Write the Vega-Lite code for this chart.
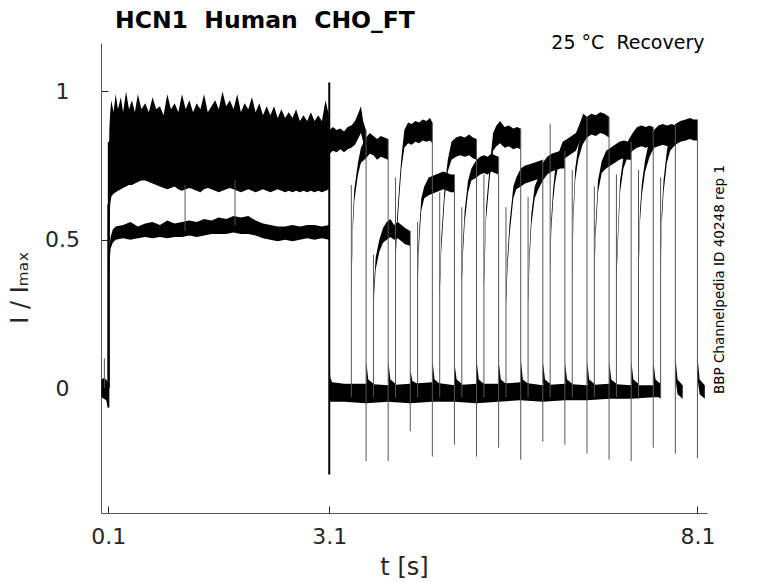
{
  "$schema": "https://vega.github.io/schema/vega-lite/v6.json",
  "width": 606,
  "height": 470,
  "autosize": {"type": "none"},
  "padding": {"left": 101, "top": 43, "right": 71, "bottom": 70},
  "background": "white",
  "title": {
    "text": "HCN1\u00a0\u00a0Human\u00a0\u00a0CHO_FT",
    "anchor": "start",
    "frame": "group",
    "dx": 14,
    "dy": 34,
    "fontSize": 23.5,
    "font": "DejaVu Sans",
    "fontWeight": "bold",
    "color": "black",
    "baseline": "alphabetic",
    "offset": 16
  },
  "config": {
    "view": {"stroke": null},
    "axis": {"grid": false, "labelFont": "DejaVu Sans", "titleFont": "DejaVu Sans"}
  },
  "datasets": {
    "bands": [
      {"seg": "pre", "t": 0.005, "lo": -0.03, "hi": 0.03},
      {"seg": "pre", "t": 0.04, "lo": -0.035, "hi": 0.035},
      {"seg": "pre", "t": 0.07, "lo": -0.04, "hi": 0.03},
      {"seg": "pre", "t": 0.09, "lo": -0.06, "hi": 0.02},
      {"seg": "pre", "t": 0.1, "lo": -0.065, "hi": 0.02},

      {"seg": "act", "t": 0.108, "lo": 0.40, "hi": 0.80},
      {"seg": "act", "t": 0.115, "lo": 0.55, "hi": 0.88},
      {"seg": "act", "t": 0.125, "lo": 0.62, "hi": 0.93},
      {"seg": "act", "t": 0.14, "lo": 0.645, "hi": 0.97},
      {"seg": "act", "t": 0.17, "lo": 0.655, "hi": 0.93},
      {"seg": "act", "t": 0.2, "lo": 0.66, "hi": 0.99},
      {"seg": "act", "t": 0.23, "lo": 0.665, "hi": 0.94},
      {"seg": "act", "t": 0.27, "lo": 0.67, "hi": 0.98},
      {"seg": "act", "t": 0.3, "lo": 0.675, "hi": 0.93},
      {"seg": "act", "t": 0.34, "lo": 0.68, "hi": 1.0},
      {"seg": "act", "t": 0.38, "lo": 0.685, "hi": 0.94},
      {"seg": "act", "t": 0.42, "lo": 0.685, "hi": 0.97},
      {"seg": "act", "t": 0.46, "lo": 0.69, "hi": 0.93},
      {"seg": "act", "t": 0.5, "lo": 0.695, "hi": 0.99},
      {"seg": "act", "t": 0.55, "lo": 0.70, "hi": 0.94},
      {"seg": "act", "t": 0.6, "lo": 0.70, "hi": 0.96},
      {"seg": "act", "t": 0.65, "lo": 0.695, "hi": 0.93},
      {"seg": "act", "t": 0.7, "lo": 0.69, "hi": 0.98},
      {"seg": "act", "t": 0.75, "lo": 0.685, "hi": 0.94},
      {"seg": "act", "t": 0.8, "lo": 0.68, "hi": 0.95},
      {"seg": "act", "t": 0.85, "lo": 0.675, "hi": 0.92},
      {"seg": "act", "t": 0.9, "lo": 0.67, "hi": 0.99},
      {"seg": "act", "t": 0.95, "lo": 0.675, "hi": 0.94},
      {"seg": "act", "t": 1.0, "lo": 0.68, "hi": 0.96},
      {"seg": "act", "t": 1.05, "lo": 0.67, "hi": 0.93},
      {"seg": "act", "t": 1.1, "lo": 0.665, "hi": 0.99},
      {"seg": "act", "t": 1.15, "lo": 0.67, "hi": 0.94},
      {"seg": "act", "t": 1.2, "lo": 0.675, "hi": 0.97},
      {"seg": "act", "t": 1.25, "lo": 0.67, "hi": 0.93},
      {"seg": "act", "t": 1.3, "lo": 0.665, "hi": 0.96},
      {"seg": "act", "t": 1.35, "lo": 0.66, "hi": 0.94},
      {"seg": "act", "t": 1.4, "lo": 0.67, "hi": 0.99},
      {"seg": "act", "t": 1.45, "lo": 0.675, "hi": 0.93},
      {"seg": "act", "t": 1.5, "lo": 0.67, "hi": 0.95},
      {"seg": "act", "t": 1.55, "lo": 0.665, "hi": 0.97},
      {"seg": "act", "t": 1.6, "lo": 0.66, "hi": 0.94},
      {"seg": "act", "t": 1.65, "lo": 0.665, "hi": 1.0},
      {"seg": "act", "t": 1.7, "lo": 0.67, "hi": 0.95},
      {"seg": "act", "t": 1.75, "lo": 0.675, "hi": 0.97},
      {"seg": "act", "t": 1.8, "lo": 0.67, "hi": 0.94},
      {"seg": "act", "t": 1.85, "lo": 0.665, "hi": 0.99},
      {"seg": "act", "t": 1.9, "lo": 0.66, "hi": 0.93},
      {"seg": "act", "t": 1.95, "lo": 0.665, "hi": 0.96},
      {"seg": "act", "t": 2.0, "lo": 0.67, "hi": 0.94},
      {"seg": "act", "t": 2.05, "lo": 0.665, "hi": 0.98},
      {"seg": "act", "t": 2.1, "lo": 0.66, "hi": 0.93},
      {"seg": "act", "t": 2.15, "lo": 0.665, "hi": 0.96},
      {"seg": "act", "t": 2.2, "lo": 0.67, "hi": 0.92},
      {"seg": "act", "t": 2.25, "lo": 0.665, "hi": 0.95},
      {"seg": "act", "t": 2.3, "lo": 0.66, "hi": 0.92},
      {"seg": "act", "t": 2.35, "lo": 0.665, "hi": 0.95},
      {"seg": "act", "t": 2.4, "lo": 0.67, "hi": 0.91},
      {"seg": "act", "t": 2.45, "lo": 0.665, "hi": 0.94},
      {"seg": "act", "t": 2.5, "lo": 0.66, "hi": 0.91},
      {"seg": "act", "t": 2.55, "lo": 0.665, "hi": 0.93},
      {"seg": "act", "t": 2.6, "lo": 0.66, "hi": 0.91},
      {"seg": "act", "t": 2.65, "lo": 0.665, "hi": 0.94},
      {"seg": "act", "t": 2.7, "lo": 0.66, "hi": 0.90},
      {"seg": "act", "t": 2.75, "lo": 0.665, "hi": 0.92},
      {"seg": "act", "t": 2.8, "lo": 0.66, "hi": 0.90},
      {"seg": "act", "t": 2.85, "lo": 0.665, "hi": 0.93},
      {"seg": "act", "t": 2.9, "lo": 0.66, "hi": 0.90},
      {"seg": "act", "t": 2.95, "lo": 0.665, "hi": 0.92},
      {"seg": "act", "t": 3.0, "lo": 0.66, "hi": 0.90},
      {"seg": "act", "t": 3.05, "lo": 0.665, "hi": 0.97},
      {"seg": "act", "t": 3.095, "lo": 0.67, "hi": 0.92},

      {"seg": "act2", "t": 0.108, "lo": 0.34, "hi": 0.42},
      {"seg": "act2", "t": 0.115, "lo": 0.42, "hi": 0.47},
      {"seg": "act2", "t": 0.13, "lo": 0.47, "hi": 0.51},
      {"seg": "act2", "t": 0.16, "lo": 0.49, "hi": 0.535},
      {"seg": "act2", "t": 0.2, "lo": 0.50, "hi": 0.545},
      {"seg": "act2", "t": 0.3, "lo": 0.505, "hi": 0.55},
      {"seg": "act2", "t": 0.4, "lo": 0.50, "hi": 0.56},
      {"seg": "act2", "t": 0.5, "lo": 0.505, "hi": 0.545},
      {"seg": "act2", "t": 0.6, "lo": 0.51, "hi": 0.555},
      {"seg": "act2", "t": 0.7, "lo": 0.505, "hi": 0.56},
      {"seg": "act2", "t": 0.8, "lo": 0.51, "hi": 0.55},
      {"seg": "act2", "t": 0.9, "lo": 0.505, "hi": 0.565},
      {"seg": "act2", "t": 1.0, "lo": 0.51, "hi": 0.555},
      {"seg": "act2", "t": 1.1, "lo": 0.51, "hi": 0.56},
      {"seg": "act2", "t": 1.2, "lo": 0.515, "hi": 0.565},
      {"seg": "act2", "t": 1.3, "lo": 0.51, "hi": 0.56},
      {"seg": "act2", "t": 1.4, "lo": 0.515, "hi": 0.57},
      {"seg": "act2", "t": 1.5, "lo": 0.52, "hi": 0.565},
      {"seg": "act2", "t": 1.6, "lo": 0.52, "hi": 0.575},
      {"seg": "act2", "t": 1.7, "lo": 0.52, "hi": 0.57},
      {"seg": "act2", "t": 1.8, "lo": 0.525, "hi": 0.58},
      {"seg": "act2", "t": 1.9, "lo": 0.52, "hi": 0.575},
      {"seg": "act2", "t": 2.0, "lo": 0.52, "hi": 0.58},
      {"seg": "act2", "t": 2.1, "lo": 0.515, "hi": 0.565},
      {"seg": "act2", "t": 2.2, "lo": 0.505, "hi": 0.555},
      {"seg": "act2", "t": 2.3, "lo": 0.50, "hi": 0.55},
      {"seg": "act2", "t": 2.4, "lo": 0.495, "hi": 0.545},
      {"seg": "act2", "t": 2.5, "lo": 0.50, "hi": 0.545},
      {"seg": "act2", "t": 2.6, "lo": 0.495, "hi": 0.55},
      {"seg": "act2", "t": 2.7, "lo": 0.50, "hi": 0.545},
      {"seg": "act2", "t": 2.8, "lo": 0.505, "hi": 0.55},
      {"seg": "act2", "t": 2.9, "lo": 0.50, "hi": 0.55},
      {"seg": "act2", "t": 3.0, "lo": 0.505, "hi": 0.545},
      {"seg": "act2", "t": 3.095, "lo": 0.50, "hi": 0.55},

      {"seg": "base", "t": 3.102, "lo": -0.04, "hi": 0.07},
      {"seg": "base", "t": 3.115, "lo": -0.045, "hi": 0.035},
      {"seg": "base", "t": 3.14, "lo": -0.045, "hi": 0.02},
      {"seg": "base", "t": 3.3, "lo": -0.045, "hi": 0.015},
      {"seg": "base", "t": 3.6, "lo": -0.05, "hi": 0.015},
      {"seg": "base", "t": 3.9, "lo": -0.045, "hi": 0.01},
      {"seg": "base", "t": 4.2, "lo": -0.05, "hi": 0.015},
      {"seg": "base", "t": 4.5, "lo": -0.045, "hi": 0.02},
      {"seg": "base", "t": 4.8, "lo": -0.045, "hi": 0.01},
      {"seg": "base", "t": 5.1, "lo": -0.05, "hi": 0.015},
      {"seg": "base", "t": 5.4, "lo": -0.045, "hi": 0.015},
      {"seg": "base", "t": 5.7, "lo": -0.04, "hi": 0.02},
      {"seg": "base", "t": 6.0, "lo": -0.045, "hi": 0.01},
      {"seg": "base", "t": 6.3, "lo": -0.04, "hi": 0.015},
      {"seg": "base", "t": 6.6, "lo": -0.04, "hi": 0.01},
      {"seg": "base", "t": 6.9, "lo": -0.035, "hi": 0.015},
      {"seg": "base", "t": 7.2, "lo": -0.035, "hi": 0.01},
      {"seg": "base", "t": 7.5, "lo": -0.03, "hi": 0.01},
      {"seg": "base", "t": 7.598, "lo": -0.03, "hi": 0.015},

      {"seg": "s0", "t": 3.102, "lo": 0.79, "hi": 0.87},
      {"seg": "s0", "t": 3.15, "lo": 0.80, "hi": 0.88},
      {"seg": "s0", "t": 3.2, "lo": 0.795, "hi": 0.87},
      {"seg": "s0", "t": 3.25, "lo": 0.805, "hi": 0.875},
      {"seg": "s0", "t": 3.3, "lo": 0.795, "hi": 0.865},
      {"seg": "s0", "t": 3.35, "lo": 0.805, "hi": 0.88},
      {"seg": "s0", "t": 3.4, "lo": 0.81, "hi": 0.885},
      {"seg": "s0", "t": 3.45, "lo": 0.82, "hi": 0.90},
      {"seg": "s0", "t": 3.5, "lo": 0.845, "hi": 0.93},
      {"seg": "s0", "t": 3.53, "lo": 0.86, "hi": 0.95},
      {"seg": "s0", "t": 3.56, "lo": 0.83, "hi": 0.90},
      {"seg": "s0", "t": 3.598, "lo": 0.80, "hi": 0.87},

      {"seg": "s1", "t": 3.4, "lo": 0.31, "hi": 0.35},
      {"seg": "s1", "t": 3.41, "lo": 0.43, "hi": 0.47},
      {"seg": "s1", "t": 3.42, "lo": 0.53, "hi": 0.57},
      {"seg": "s1", "t": 3.44, "lo": 0.63, "hi": 0.67},
      {"seg": "s1", "t": 3.49, "lo": 0.72, "hi": 0.76},
      {"seg": "s1", "t": 3.53, "lo": 0.76, "hi": 0.81},
      {"seg": "s1", "t": 3.6, "lo": 0.775, "hi": 0.845},
      {"seg": "s1", "t": 3.65, "lo": 0.79, "hi": 0.86},
      {"seg": "s1", "t": 3.7, "lo": 0.785, "hi": 0.85},
      {"seg": "s1", "t": 3.75, "lo": 0.77, "hi": 0.84},
      {"seg": "s1", "t": 3.8, "lo": 0.78, "hi": 0.85},
      {"seg": "s1", "t": 3.85, "lo": 0.775, "hi": 0.845},
      {"seg": "s1", "t": 3.898, "lo": 0.77, "hi": 0.84},

      {"seg": "s2", "t": 3.7, "lo": 0.21, "hi": 0.25},
      {"seg": "s2", "t": 3.71, "lo": 0.32, "hi": 0.36},
      {"seg": "s2", "t": 3.73, "lo": 0.40, "hi": 0.44},
      {"seg": "s2", "t": 3.78, "lo": 0.46, "hi": 0.50},
      {"seg": "s2", "t": 3.83, "lo": 0.49, "hi": 0.54},
      {"seg": "s2", "t": 3.88, "lo": 0.50, "hi": 0.56},
      {"seg": "s2", "t": 3.93, "lo": 0.51, "hi": 0.57},
      {"seg": "s2", "t": 3.98, "lo": 0.50, "hi": 0.55},
      {"seg": "s2", "t": 4.03, "lo": 0.505, "hi": 0.56},
      {"seg": "s2", "t": 4.08, "lo": 0.495, "hi": 0.55},
      {"seg": "s2", "t": 4.13, "lo": 0.485, "hi": 0.54},
      {"seg": "s2", "t": 4.198, "lo": 0.48, "hi": 0.53},

      {"seg": "s3", "t": 4.0, "lo": 0.43, "hi": 0.47},
      {"seg": "s3", "t": 4.02, "lo": 0.53, "hi": 0.57},
      {"seg": "s3", "t": 4.05, "lo": 0.64, "hi": 0.68},
      {"seg": "s3", "t": 4.08, "lo": 0.74, "hi": 0.78},
      {"seg": "s3", "t": 4.12, "lo": 0.81, "hi": 0.87},
      {"seg": "s3", "t": 4.17, "lo": 0.825, "hi": 0.895},
      {"seg": "s3", "t": 4.22, "lo": 0.82, "hi": 0.89},
      {"seg": "s3", "t": 4.27, "lo": 0.83, "hi": 0.90},
      {"seg": "s3", "t": 4.32, "lo": 0.825, "hi": 0.895},
      {"seg": "s3", "t": 4.37, "lo": 0.835, "hi": 0.905},
      {"seg": "s3", "t": 4.42, "lo": 0.83, "hi": 0.90},
      {"seg": "s3", "t": 4.47, "lo": 0.835, "hi": 0.91},
      {"seg": "s3", "t": 4.498, "lo": 0.825, "hi": 0.895},

      {"seg": "s4", "t": 4.3, "lo": 0.32, "hi": 0.36},
      {"seg": "s4", "t": 4.31, "lo": 0.43, "hi": 0.47},
      {"seg": "s4", "t": 4.326, "lo": 0.51, "hi": 0.55},
      {"seg": "s4", "t": 4.35, "lo": 0.60, "hi": 0.64},
      {"seg": "s4", "t": 4.39, "lo": 0.64, "hi": 0.68},
      {"seg": "s4", "t": 4.45, "lo": 0.65, "hi": 0.71},
      {"seg": "s4", "t": 4.5, "lo": 0.655, "hi": 0.715},
      {"seg": "s4", "t": 4.55, "lo": 0.66, "hi": 0.72},
      {"seg": "s4", "t": 4.6, "lo": 0.665, "hi": 0.725},
      {"seg": "s4", "t": 4.65, "lo": 0.67, "hi": 0.73},
      {"seg": "s4", "t": 4.7, "lo": 0.665, "hi": 0.725},
      {"seg": "s4", "t": 4.75, "lo": 0.66, "hi": 0.72},
      {"seg": "s4", "t": 4.798, "lo": 0.66, "hi": 0.72},

      {"seg": "s5", "t": 4.6, "lo": 0.31, "hi": 0.35},
      {"seg": "s5", "t": 4.62, "lo": 0.46, "hi": 0.50},
      {"seg": "s5", "t": 4.667, "lo": 0.64, "hi": 0.68},
      {"seg": "s5", "t": 4.71, "lo": 0.73, "hi": 0.77},
      {"seg": "s5", "t": 4.76, "lo": 0.77, "hi": 0.83},
      {"seg": "s5", "t": 4.82, "lo": 0.78, "hi": 0.845},
      {"seg": "s5", "t": 4.88, "lo": 0.785, "hi": 0.85},
      {"seg": "s5", "t": 4.94, "lo": 0.78, "hi": 0.845},
      {"seg": "s5", "t": 5.0, "lo": 0.785, "hi": 0.855},
      {"seg": "s5", "t": 5.05, "lo": 0.775, "hi": 0.845},
      {"seg": "s5", "t": 5.098, "lo": 0.77, "hi": 0.84},

      {"seg": "s6", "t": 4.9, "lo": 0.35, "hi": 0.39},
      {"seg": "s6", "t": 4.915, "lo": 0.45, "hi": 0.49},
      {"seg": "s6", "t": 4.94, "lo": 0.56, "hi": 0.60},
      {"seg": "s6", "t": 4.985, "lo": 0.66, "hi": 0.70},
      {"seg": "s6", "t": 5.03, "lo": 0.70, "hi": 0.74},
      {"seg": "s6", "t": 5.1, "lo": 0.71, "hi": 0.77},
      {"seg": "s6", "t": 5.15, "lo": 0.72, "hi": 0.78},
      {"seg": "s6", "t": 5.2, "lo": 0.725, "hi": 0.785},
      {"seg": "s6", "t": 5.25, "lo": 0.72, "hi": 0.78},
      {"seg": "s6", "t": 5.3, "lo": 0.73, "hi": 0.79},
      {"seg": "s6", "t": 5.35, "lo": 0.725, "hi": 0.785},
      {"seg": "s6", "t": 5.398, "lo": 0.72, "hi": 0.78},

      {"seg": "s7", "t": 5.2, "lo": 0.34, "hi": 0.38},
      {"seg": "s7", "t": 5.23, "lo": 0.57, "hi": 0.61},
      {"seg": "s7", "t": 5.28, "lo": 0.71, "hi": 0.75},
      {"seg": "s7", "t": 5.325, "lo": 0.80, "hi": 0.86},
      {"seg": "s7", "t": 5.37, "lo": 0.815, "hi": 0.885},
      {"seg": "s7", "t": 5.42, "lo": 0.825, "hi": 0.90},
      {"seg": "s7", "t": 5.48, "lo": 0.81, "hi": 0.88},
      {"seg": "s7", "t": 5.54, "lo": 0.815, "hi": 0.885},
      {"seg": "s7", "t": 5.6, "lo": 0.805, "hi": 0.875},
      {"seg": "s7", "t": 5.65, "lo": 0.81, "hi": 0.88},
      {"seg": "s7", "t": 5.698, "lo": 0.805, "hi": 0.875},

      {"seg": "s8", "t": 5.5, "lo": 0.28, "hi": 0.32},
      {"seg": "s8", "t": 5.52, "lo": 0.40, "hi": 0.44},
      {"seg": "s8", "t": 5.55, "lo": 0.52, "hi": 0.56},
      {"seg": "s8", "t": 5.6, "lo": 0.64, "hi": 0.68},
      {"seg": "s8", "t": 5.64, "lo": 0.67, "hi": 0.71},
      {"seg": "s8", "t": 5.7, "lo": 0.68, "hi": 0.74},
      {"seg": "s8", "t": 5.76, "lo": 0.69, "hi": 0.75},
      {"seg": "s8", "t": 5.82, "lo": 0.695, "hi": 0.755},
      {"seg": "s8", "t": 5.88, "lo": 0.70, "hi": 0.76},
      {"seg": "s8", "t": 5.94, "lo": 0.705, "hi": 0.765},
      {"seg": "s8", "t": 5.998, "lo": 0.71, "hi": 0.77},

      {"seg": "s9", "t": 5.8, "lo": 0.28, "hi": 0.32},
      {"seg": "s9", "t": 5.82, "lo": 0.43, "hi": 0.47},
      {"seg": "s9", "t": 5.845, "lo": 0.55, "hi": 0.59},
      {"seg": "s9", "t": 5.89, "lo": 0.64, "hi": 0.68},
      {"seg": "s9", "t": 5.94, "lo": 0.67, "hi": 0.71},
      {"seg": "s9", "t": 6.0, "lo": 0.70, "hi": 0.76},
      {"seg": "s9", "t": 6.06, "lo": 0.72, "hi": 0.78},
      {"seg": "s9", "t": 6.12, "lo": 0.73, "hi": 0.79},
      {"seg": "s9", "t": 6.18, "lo": 0.735, "hi": 0.795},
      {"seg": "s9", "t": 6.24, "lo": 0.74, "hi": 0.80},
      {"seg": "s9", "t": 6.298, "lo": 0.74, "hi": 0.80},

      {"seg": "s10", "t": 6.1, "lo": 0.39, "hi": 0.43},
      {"seg": "s10", "t": 6.115, "lo": 0.53, "hi": 0.57},
      {"seg": "s10", "t": 6.14, "lo": 0.63, "hi": 0.67},
      {"seg": "s10", "t": 6.165, "lo": 0.69, "hi": 0.73},
      {"seg": "s10", "t": 6.21, "lo": 0.75, "hi": 0.79},
      {"seg": "s10", "t": 6.27, "lo": 0.77, "hi": 0.83},
      {"seg": "s10", "t": 6.33, "lo": 0.78, "hi": 0.84},
      {"seg": "s10", "t": 6.39, "lo": 0.79, "hi": 0.85},
      {"seg": "s10", "t": 6.45, "lo": 0.80, "hi": 0.86},
      {"seg": "s10", "t": 6.5, "lo": 0.83, "hi": 0.89},
      {"seg": "s10", "t": 6.55, "lo": 0.855, "hi": 0.925},
      {"seg": "s10", "t": 6.598, "lo": 0.845, "hi": 0.915},

      {"seg": "s11", "t": 6.4, "lo": 0.37, "hi": 0.41},
      {"seg": "s11", "t": 6.415, "lo": 0.56, "hi": 0.60},
      {"seg": "s11", "t": 6.44, "lo": 0.70, "hi": 0.74},
      {"seg": "s11", "t": 6.48, "lo": 0.77, "hi": 0.81},
      {"seg": "s11", "t": 6.54, "lo": 0.82, "hi": 0.88},
      {"seg": "s11", "t": 6.6, "lo": 0.845, "hi": 0.915},
      {"seg": "s11", "t": 6.66, "lo": 0.855, "hi": 0.925},
      {"seg": "s11", "t": 6.72, "lo": 0.85, "hi": 0.92},
      {"seg": "s11", "t": 6.78, "lo": 0.86, "hi": 0.93},
      {"seg": "s11", "t": 6.84, "lo": 0.855, "hi": 0.925},
      {"seg": "s11", "t": 6.898, "lo": 0.845, "hi": 0.915},

      {"seg": "s12", "t": 6.7, "lo": 0.35, "hi": 0.39},
      {"seg": "s12", "t": 6.715, "lo": 0.50, "hi": 0.54},
      {"seg": "s12", "t": 6.75, "lo": 0.66, "hi": 0.70},
      {"seg": "s12", "t": 6.8, "lo": 0.725, "hi": 0.765},
      {"seg": "s12", "t": 6.86, "lo": 0.74, "hi": 0.80},
      {"seg": "s12", "t": 6.92, "lo": 0.75, "hi": 0.81},
      {"seg": "s12", "t": 6.98, "lo": 0.76, "hi": 0.82},
      {"seg": "s12", "t": 7.04, "lo": 0.77, "hi": 0.83},
      {"seg": "s12", "t": 7.1, "lo": 0.775, "hi": 0.835},
      {"seg": "s12", "t": 7.16, "lo": 0.77, "hi": 0.83},
      {"seg": "s12", "t": 7.198, "lo": 0.77, "hi": 0.83},

      {"seg": "s13", "t": 7.0, "lo": 0.36, "hi": 0.40},
      {"seg": "s13", "t": 7.027, "lo": 0.53, "hi": 0.57},
      {"seg": "s13", "t": 7.05, "lo": 0.66, "hi": 0.70},
      {"seg": "s13", "t": 7.095, "lo": 0.74, "hi": 0.78},
      {"seg": "s13", "t": 7.16, "lo": 0.785, "hi": 0.835},
      {"seg": "s13", "t": 7.22, "lo": 0.80, "hi": 0.86},
      {"seg": "s13", "t": 7.28, "lo": 0.81, "hi": 0.88},
      {"seg": "s13", "t": 7.34, "lo": 0.815, "hi": 0.885},
      {"seg": "s13", "t": 7.4, "lo": 0.81, "hi": 0.88},
      {"seg": "s13", "t": 7.45, "lo": 0.815, "hi": 0.885},
      {"seg": "s13", "t": 7.498, "lo": 0.81, "hi": 0.88},

      {"seg": "s14", "t": 7.3, "lo": 0.37, "hi": 0.41},
      {"seg": "s14", "t": 7.32, "lo": 0.56, "hi": 0.60},
      {"seg": "s14", "t": 7.345, "lo": 0.65, "hi": 0.69},
      {"seg": "s14", "t": 7.39, "lo": 0.73, "hi": 0.77},
      {"seg": "s14", "t": 7.45, "lo": 0.78, "hi": 0.84},
      {"seg": "s14", "t": 7.51, "lo": 0.81, "hi": 0.87},
      {"seg": "s14", "t": 7.57, "lo": 0.815, "hi": 0.885},
      {"seg": "s14", "t": 7.63, "lo": 0.82, "hi": 0.89},
      {"seg": "s14", "t": 7.69, "lo": 0.815, "hi": 0.885},
      {"seg": "s14", "t": 7.75, "lo": 0.82, "hi": 0.89},
      {"seg": "s14", "t": 7.798, "lo": 0.815, "hi": 0.885},

      {"seg": "s15", "t": 7.6, "lo": 0.39, "hi": 0.43},
      {"seg": "s15", "t": 7.615, "lo": 0.55, "hi": 0.59},
      {"seg": "s15", "t": 7.64, "lo": 0.66, "hi": 0.70},
      {"seg": "s15", "t": 7.685, "lo": 0.76, "hi": 0.80},
      {"seg": "s15", "t": 7.73, "lo": 0.80, "hi": 0.86},
      {"seg": "s15", "t": 7.8, "lo": 0.82, "hi": 0.89},
      {"seg": "s15", "t": 7.87, "lo": 0.83, "hi": 0.90},
      {"seg": "s15", "t": 7.94, "lo": 0.835, "hi": 0.905},
      {"seg": "s15", "t": 8.0, "lo": 0.84, "hi": 0.91},
      {"seg": "s15", "t": 8.05, "lo": 0.835, "hi": 0.905},
      {"seg": "s15", "t": 8.098, "lo": 0.835, "hi": 0.905},

      {"seg": "t0", "t": 3.603, "lo": 0.02, "hi": 0.09},
      {"seg": "t0", "t": 3.63, "lo": -0.02, "hi": 0.03},
      {"seg": "t0", "t": 3.7, "lo": -0.035, "hi": 0.015},
      {"seg": "t1", "t": 3.903, "lo": 0.02, "hi": 0.09},
      {"seg": "t1", "t": 3.93, "lo": -0.02, "hi": 0.03},
      {"seg": "t1", "t": 4.0, "lo": -0.035, "hi": 0.015},
      {"seg": "t2", "t": 4.203, "lo": 0.01, "hi": 0.06},
      {"seg": "t2", "t": 4.23, "lo": -0.02, "hi": 0.025},
      {"seg": "t2", "t": 4.3, "lo": -0.035, "hi": 0.015},
      {"seg": "t3", "t": 4.503, "lo": 0.02, "hi": 0.09},
      {"seg": "t3", "t": 4.53, "lo": -0.02, "hi": 0.03},
      {"seg": "t3", "t": 4.6, "lo": -0.035, "hi": 0.015},
      {"seg": "t4", "t": 4.803, "lo": 0.02, "hi": 0.08},
      {"seg": "t4", "t": 4.83, "lo": -0.02, "hi": 0.03},
      {"seg": "t4", "t": 4.9, "lo": -0.035, "hi": 0.015},
      {"seg": "t5", "t": 5.103, "lo": 0.02, "hi": 0.09},
      {"seg": "t5", "t": 5.13, "lo": -0.02, "hi": 0.03},
      {"seg": "t5", "t": 5.2, "lo": -0.035, "hi": 0.015},
      {"seg": "t6", "t": 5.403, "lo": 0.02, "hi": 0.085},
      {"seg": "t6", "t": 5.43, "lo": -0.02, "hi": 0.03},
      {"seg": "t6", "t": 5.5, "lo": -0.035, "hi": 0.015},
      {"seg": "t7", "t": 5.703, "lo": 0.02, "hi": 0.09},
      {"seg": "t7", "t": 5.73, "lo": -0.02, "hi": 0.03},
      {"seg": "t7", "t": 5.8, "lo": -0.035, "hi": 0.015},
      {"seg": "t8", "t": 6.003, "lo": 0.02, "hi": 0.085},
      {"seg": "t8", "t": 6.03, "lo": -0.02, "hi": 0.03},
      {"seg": "t8", "t": 6.1, "lo": -0.035, "hi": 0.015},
      {"seg": "t9", "t": 6.303, "lo": 0.02, "hi": 0.085},
      {"seg": "t9", "t": 6.33, "lo": -0.02, "hi": 0.03},
      {"seg": "t9", "t": 6.4, "lo": -0.035, "hi": 0.015},
      {"seg": "t10", "t": 6.603, "lo": 0.02, "hi": 0.09},
      {"seg": "t10", "t": 6.63, "lo": -0.02, "hi": 0.03},
      {"seg": "t10", "t": 6.7, "lo": -0.035, "hi": 0.015},
      {"seg": "t11", "t": 6.903, "lo": 0.02, "hi": 0.09},
      {"seg": "t11", "t": 6.93, "lo": -0.02, "hi": 0.03},
      {"seg": "t11", "t": 7.0, "lo": -0.035, "hi": 0.015},
      {"seg": "t12", "t": 7.203, "lo": 0.02, "hi": 0.09},
      {"seg": "t12", "t": 7.23, "lo": -0.02, "hi": 0.03},
      {"seg": "t12", "t": 7.3, "lo": -0.035, "hi": 0.015},
      {"seg": "t13", "t": 7.503, "lo": 0.02, "hi": 0.09},
      {"seg": "t13", "t": 7.53, "lo": -0.02, "hi": 0.03},
      {"seg": "t13", "t": 7.6, "lo": -0.035, "hi": 0.015},
      {"seg": "t14", "t": 7.803, "lo": 0.03, "hi": 0.10},
      {"seg": "t14", "t": 7.83, "lo": -0.02, "hi": 0.03},
      {"seg": "t14", "t": 7.9, "lo": -0.035, "hi": 0.01},
      {"seg": "t15", "t": 8.103, "lo": 0.03, "hi": 0.10},
      {"seg": "t15", "t": 8.13, "lo": -0.02, "hi": 0.03},
      {"seg": "t15", "t": 8.2, "lo": -0.035, "hi": 0.01}
    ],
    "spikes": [
      {"kind": "step", "t": 0.1, "y0": -0.065, "y1": 0.62},
      {"kind": "step", "t": 0.106, "y0": 0.0, "y1": 0.83},
      {"kind": "blip", "t": 0.046, "y0": 0.0, "y1": 0.1},
      {"kind": "blip", "t": 1.142, "y0": 0.53, "y1": 0.685},
      {"kind": "blip", "t": 1.82, "y0": 0.55, "y1": 0.70},
      {"kind": "drop", "t": 3.1, "y0": -0.29, "y1": 1.03},

      {"kind": "onset", "t": 3.4, "y0": -0.03, "y1": 0.685},
      {"kind": "onset", "t": 3.7, "y0": -0.03, "y1": 0.45},
      {"kind": "onset", "t": 4.0, "y0": -0.03, "y1": 0.71},
      {"kind": "onset", "t": 4.3, "y0": -0.03, "y1": 0.56},
      {"kind": "onset", "t": 4.6, "y0": -0.03, "y1": 0.66},
      {"kind": "onset", "t": 4.9, "y0": -0.03, "y1": 0.61},
      {"kind": "onset", "t": 5.2, "y0": -0.03, "y1": 0.72},
      {"kind": "onset", "t": 5.5, "y0": -0.03, "y1": 0.61},
      {"kind": "onset", "t": 5.8, "y0": -0.03, "y1": 0.645},
      {"kind": "onset", "t": 6.1, "y0": -0.03, "y1": 0.89},
      {"kind": "onset", "t": 6.4, "y0": -0.03, "y1": 0.735},
      {"kind": "onset", "t": 6.7, "y0": -0.03, "y1": 0.68},
      {"kind": "onset", "t": 7.0, "y0": -0.03, "y1": 0.72},
      {"kind": "onset", "t": 7.3, "y0": -0.03, "y1": 0.735},
      {"kind": "onset", "t": 7.6, "y0": -0.03, "y1": 0.71},

      {"kind": "end", "t": 3.6, "y0": -0.245, "y1": 0.87},
      {"kind": "end", "t": 3.9, "y0": -0.245, "y1": 0.84},
      {"kind": "end", "t": 4.2, "y0": -0.145, "y1": 0.53},
      {"kind": "end", "t": 4.5, "y0": -0.23, "y1": 0.895},
      {"kind": "end", "t": 4.8, "y0": -0.19, "y1": 0.72},
      {"kind": "end", "t": 5.1, "y0": -0.23, "y1": 0.84},
      {"kind": "end", "t": 5.4, "y0": -0.20, "y1": 0.78},
      {"kind": "end", "t": 5.7, "y0": -0.24, "y1": 0.875},
      {"kind": "end", "t": 6.0, "y0": -0.18, "y1": 0.77},
      {"kind": "end", "t": 6.3, "y0": -0.19, "y1": 0.80},
      {"kind": "end", "t": 6.6, "y0": -0.22, "y1": 0.915},
      {"kind": "end", "t": 6.9, "y0": -0.24, "y1": 0.915},
      {"kind": "end", "t": 7.2, "y0": -0.245, "y1": 0.83},
      {"kind": "end", "t": 7.5, "y0": -0.20, "y1": 0.88},
      {"kind": "end", "t": 7.8, "y0": -0.22, "y1": 0.885},
      {"kind": "end", "t": 8.1, "y0": -0.235, "y1": 0.905}
    ]
  },
  "layer": [
    {
      "data": {"name": "bands"},
      "mark": {"type": "area", "color": "black", "opacity": 1},
      "encoding": {
        "x": {
          "field": "t",
          "type": "quantitative",
          "scale": {"domain": [0, 8.23], "nice": false, "zero": false},
          "axis": {
            "orient": "bottom",
            "values": [0.1, 3.1, 8.1],
            "format": ".1f",
            "tickSize": -7,
            "tickColor": "#262626",
            "domainColor": "#555555",
            "labelFontSize": 22,
            "labelColor": "#262626",
            "labelPadding": 20,
            "labelFlush": false,
            "title": "t [s]",
            "titleFontSize": 24,
            "titleFontWeight": "normal",
            "titleColor": "#262626",
            "titleBaseline": "alphabetic",
            "titleY": 61
          }
        },
        "y": {
          "field": "lo",
          "type": "quantitative",
          "scale": {"domain": [-0.42, 1.163], "nice": false, "zero": false},
          "axis": {
            "orient": "left",
            "values": [0, 0.5, 1],
            "format": "~g",
            "tickSize": -7,
            "tickColor": "#262626",
            "domainColor": "#555555",
            "labelFontSize": 22,
            "labelColor": "#262626",
            "labelAlign": "center",
            "labelPadding": 46,
            "title": "I / I\u2098\u2090\u2093",
            "titleFontSize": 24,
            "titleFontWeight": "normal",
            "titleColor": "#262626",
            "titleAngle": 270,
            "titleAlign": "center",
            "titleBaseline": "alphabetic",
            "titleX": -74,
            "titleY": 244
          }
        },
        "y2": {"field": "hi"},
        "detail": {"field": "seg", "type": "nominal"}
      }
    },
    {
      "data": {"name": "spikes"},
      "mark": {"type": "rule"},
      "encoding": {
        "x": {
          "field": "t",
          "type": "quantitative",
          "axis": {
            "orient": "top",
            "domain": false,
            "ticks": false,
            "labels": false,
            "title": "25 \u00b0C\u00a0\u00a0Recovery",
            "titleFontSize": 19,
            "titleFontWeight": "normal",
            "titleColor": "black",
            "titleAlign": "right",
            "titleBaseline": "alphabetic",
            "titleX": 603,
            "titleY": 5
          }
        },
        "y": {
          "field": "y0",
          "type": "quantitative",
          "axis": {
            "orient": "right",
            "domain": false,
            "ticks": false,
            "labels": false,
            "title": "BBP Channelpedia ID 40248 rep 1",
            "titleFontSize": 13.5,
            "titleFontWeight": "normal",
            "titleColor": "black",
            "titleAngle": 270,
            "titleAlign": "center",
            "titleBaseline": "alphabetic",
            "titleX": 16,
            "titleY": 236
          }
        },
        "y2": {"field": "y1"},
        "color": {
          "condition": {"test": "datum.kind === 'step' || datum.kind === 'drop'", "value": "black"},
          "value": "#555555"
        },
        "strokeWidth": {
          "condition": {"test": "datum.kind === 'step' || datum.kind === 'drop'", "value": 2},
          "value": 1
        }
      }
    }
  ],
  "resolve": {"axis": {"x": "independent", "y": "independent"}}
}
